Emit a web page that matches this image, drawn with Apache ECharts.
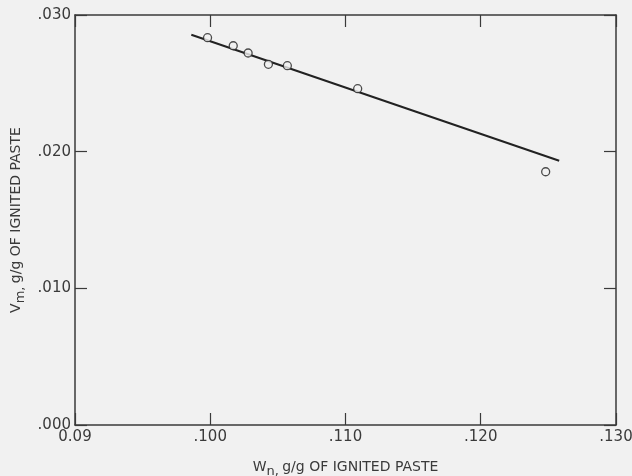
<!DOCTYPE html>
<html>
<head>
<meta charset="utf-8">
<script src="https://cdn.jsdelivr.net/npm/echarts@6/dist/echarts.min.js"></script>
<style>
  html, body { margin: 0; padding: 0; background: #f1f1f1; }
  #main { width: 632px; height: 476px; }
</style>
</head>
<body>
<div id="main"></div>
<script>
// measured points (Wn, Vm)
var wn = [0.0998, 0.1017, 0.1028, 0.1043, 0.1057, 0.1109, 0.1248];
var vm = [0.02834, 0.02775, 0.02722, 0.02639, 0.02629, 0.02461, 0.01853];
// fitted straight line, its two ends
var lineX = [0.0986, 0.1258];
var lineY = [0.02856, 0.01934];
var xTicks = ['0.09', '.100', '.110', '.120', '.130'];
var yTicks = ['.000', '.010', '.020', '.030'];

var ink = '#3a3a3a';
var font = 'DejaVu Sans';

var myChart = echarts.init(document.getElementById('main'));

function axisBase(extra) {
  var a = {
    type: 'value',
    axisLine: { show: true, onZero: false, lineStyle: { color: ink, width: 1.5 } },
    axisTick: { show: true, inside: true, length: 12, lineStyle: { color: ink, width: 1.2 } },
    splitLine: { show: false }
  };
  for (var k in extra) a[k] = extra[k];
  return a;
}

var option = {
  backgroundColor: '#f1f1f1',
  animation: false,
  grid: { left: 75, right: 16, top: 15, bottom: 51, outerBoundsMode: 'none', containLabel: false },
  xAxis: [
    axisBase({
      position: 'bottom', min: 0.09, max: 0.13, interval: 0.01,
      axisLabel: {
        color: ink, fontFamily: font, fontSize: 15, margin: 5,
        formatter: function (v) { return xTicks[Math.round((v - 0.09) / 0.01)]; }
      },
      name: '{a|W}{s|n,} {a|g/g OF IGNITED PASTE}',
      nameLocation: 'middle', nameGap: 32,
      nameTextStyle: {
        rich: {
          a: { color: ink, fontFamily: font, fontSize: 14 },
          s: { color: ink, fontFamily: font, fontSize: 13, padding: [8, 0, 0, 0] }
        }
      }
    }),
    axisBase({
      position: 'top', min: 0.09, max: 0.13, interval: 0.01,
      axisLabel: { show: false }
    })
  ],
  yAxis: [
    axisBase({
      position: 'left', min: 0, max: 0.03, interval: 0.01,
      axisLabel: {
        color: ink, fontFamily: font, fontSize: 15, margin: 4,
        formatter: function (v) { return yTicks[Math.round(v / 0.01)]; }
      },
      name: '{a|V}{s|m,} {a|g/g OF IGNITED PASTE}',
      nameLocation: 'middle', nameGap: 45, nameRotate: 90,
      nameTextStyle: {
        rich: {
          a: { color: ink, fontFamily: font, fontSize: 14 },
          s: { color: ink, fontFamily: font, fontSize: 13, padding: [8, 0, 0, 0] }
        }
      }
    }),
    axisBase({
      position: 'right', min: 0, max: 0.03, interval: 0.01,
      axisLabel: { show: false }
    })
  ],
  series: [
    {
      type: 'line',
      data: lineX.map(function (x, i) { return [x, lineY[i]]; }),
      showSymbol: false,
      lineStyle: { color: '#222', width: 2 },
      silent: true
    },
    {
      type: 'scatter',
      data: wn.map(function (x, i) { return [x, vm[i]]; }),
      symbol: 'circle',
      symbolSize: 8,
      itemStyle: { color: '#f1f1f1', borderColor: '#222', borderWidth: 1.3 },
      z: 3
    }
  ]
};

myChart.setOption(option);
window.onresize = myChart.resize;
</script>
</body>
</html>
